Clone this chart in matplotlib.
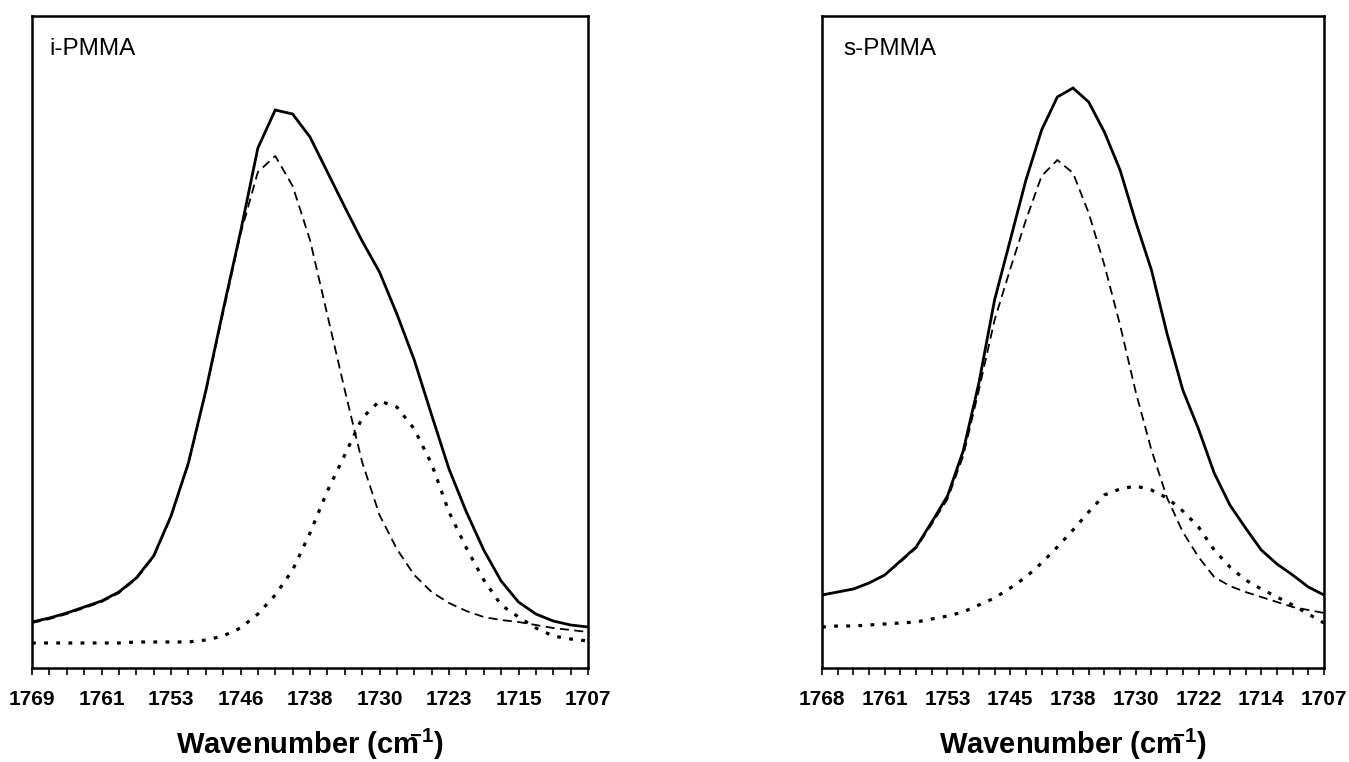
import numpy as np
import matplotlib
matplotlib.use("Agg")
import matplotlib.pyplot as plt
from matplotlib.ticker import FixedLocator

plt.rcParams['font.family'] = ['Liberation Sans', 'DejaVu Sans']
plt.rcParams['mathtext.fontset'] = 'custom'
plt.rcParams['mathtext.rm'] = 'Liberation Sans'
plt.rcParams['mathtext.bf'] = 'Liberation Sans:bold'

# Tick labels (wavenumber, cm-1) shown under every 4th spectral point
labels_i = ["1769", "1761", "1753", "1746", "1738", "1730", "1723", "1715", "1707"]
labels_s = ["1768", "1761", "1753", "1745", "1738", "1730", "1722", "1714", "1707"]

# Absorbance (arbitrary units), 33 points from high to low wavenumber
# i-PMMA
i_total = [0.046, 0.050, 0.055, 0.061, 0.067, 0.076, 0.090, 0.112, 0.152, 0.205, 0.277,
           0.358, 0.436, 0.520, 0.558, 0.554, 0.531, 0.496, 0.461, 0.427, 0.396, 0.354,
           0.308, 0.253, 0.199, 0.156, 0.118, 0.087, 0.066, 0.054, 0.047, 0.043, 0.041]
i_band1 = [0.045, 0.049, 0.054, 0.060, 0.066, 0.075, 0.089, 0.111, 0.151, 0.204, 0.276,
           0.355, 0.434, 0.496, 0.512, 0.482, 0.428, 0.353, 0.278, 0.206, 0.153, 0.119,
           0.093, 0.076, 0.065, 0.057, 0.051, 0.048, 0.046, 0.043, 0.040, 0.038, 0.036]
i_band2 = [0.025, 0.025, 0.025, 0.025, 0.025, 0.025, 0.026, 0.026, 0.026, 0.026, 0.028,
           0.032, 0.040, 0.054, 0.073, 0.098, 0.135, 0.177, 0.213, 0.250, 0.267, 0.261,
           0.239, 0.204, 0.156, 0.120, 0.088, 0.063, 0.051, 0.040, 0.032, 0.029, 0.027]

# s-PMMA
s_total = [0.073, 0.076, 0.079, 0.085, 0.093, 0.107, 0.121, 0.146, 0.172, 0.217, 0.285,
           0.368, 0.428, 0.488, 0.538, 0.571, 0.580, 0.566, 0.536, 0.498, 0.446, 0.398,
           0.334, 0.278, 0.239, 0.195, 0.163, 0.140, 0.118, 0.104, 0.093, 0.081, 0.073]
s_band1 = [0.073, 0.076, 0.079, 0.085, 0.093, 0.106, 0.120, 0.144, 0.169, 0.212, 0.278,
           0.348, 0.399, 0.448, 0.492, 0.508, 0.495, 0.455, 0.403, 0.343, 0.276, 0.218,
           0.170, 0.136, 0.111, 0.091, 0.082, 0.076, 0.071, 0.066, 0.061, 0.058, 0.055]
s_band2 = [0.041, 0.042, 0.042, 0.043, 0.044, 0.045, 0.046, 0.049, 0.052, 0.056, 0.063,
           0.070, 0.080, 0.091, 0.105, 0.121, 0.138, 0.156, 0.173, 0.179, 0.182, 0.178,
           0.170, 0.157, 0.141, 0.118, 0.101, 0.088, 0.079, 0.071, 0.063, 0.054, 0.045]

panels = [
    ("i-PMMA", labels_i, i_total, i_band1, i_band2, [32 / 1349, 94 / 762, 556 / 1349, 652 / 762]),
    ("s-PMMA", labels_s, s_total, s_band1, s_band2, [822 / 1349, 94 / 762, 502 / 1349, 652 / 762]),
]

fig = plt.figure(figsize=(13.49, 7.62), dpi=100)

for name, labels, total, band1, band2, rect in panels:
    ax = fig.add_axes(rect)
    x = np.arange(len(total))

    ax.plot(x, band2, color="black", lw=2.3, linestyle=(0, (1.2, 2.6)))
    ax.plot(x, band1, color="black", lw=1.3, linestyle=(0, (5, 3)))
    ax.plot(x, total, color="black", lw=2.0, solid_joinstyle="miter")

    ax.set_xlim(0, len(total) - 1)
    ax.set_ylim(0, 0.652)

    major = x[::4]
    ax.xaxis.set_major_locator(FixedLocator(major))
    ax.xaxis.set_minor_locator(FixedLocator(x))
    ax.set_xticklabels(labels, fontsize=15, fontweight="bold")
    ax.tick_params(axis="x", which="both", direction="out", length=5, width=1.2, pad=11)
    ax.set_yticks([])

    for sp in ax.spines.values():
        sp.set_linewidth(1.8)
        sp.set_color("black")

    ax.text(0.032 if name == "i-PMMA" else 0.043, 0.95, name, transform=ax.transAxes,
            fontsize=17.5, va="center", ha="left")
    ax.set_xlabel(r"Wavenumber (cm$^{\!\!\!\mathbf{-1}}$)", fontsize=21, fontweight="bold",
                  labelpad=13)

fig.savefig("out.png", dpi=100)
